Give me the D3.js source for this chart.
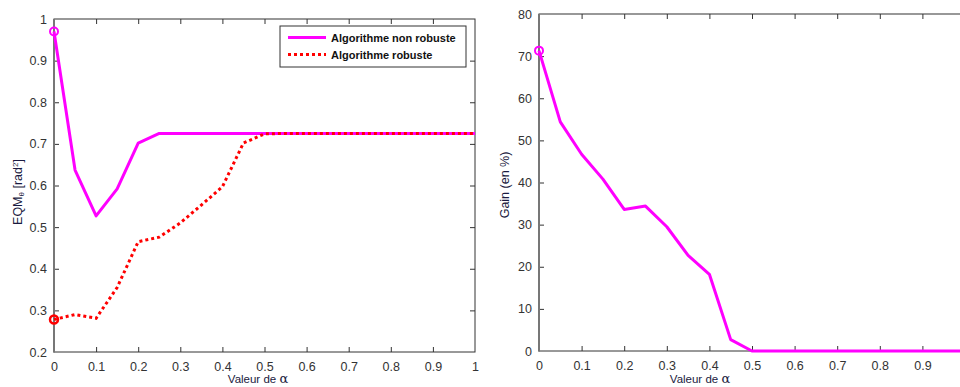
<!DOCTYPE html>
<html><head><meta charset="utf-8">
<script src="https://cdn.jsdelivr.net/npm/d3@7"></script>
<style>body{margin:0;background:#fff}svg{display:block}text{font-family:Arial,"Liberation Sans",sans-serif}</style>
</head><body>
<svg id="c" width="960" height="387"></svg>
<script>
const alpha = [0,0.05,0.1,0.15,0.2,0.25,0.3,0.35,0.4,0.45,0.5,0.55,0.6,0.65,0.7,0.75,0.8,0.85,0.9,0.95,1];
const eqmNonRobuste = [0.970,0.637,0.527,0.592,0.702,0.725,0.725,0.725,0.725,0.725,0.725,0.725,0.725,0.725,0.725,0.725,0.725,0.725,0.725,0.725,0.725];
const eqmRobuste = [0.278,0.290,0.281,0.355,0.465,0.476,0.510,0.553,0.597,0.702,0.724,0.725,0.725,0.725,0.725,0.725,0.725,0.725,0.725,0.725,0.725];
const gain = [71.3,54.4,46.7,40.8,33.6,34.4,29.5,22.7,18.2,2.7,0,0,0,0,0,0,0,0,0,0,0];
const xTicks = [0,0.1,0.2,0.3,0.4,0.5,0.6,0.7,0.8,0.9,1];
const yTicksLeft = [0.2,0.3,0.4,0.5,0.6,0.7,0.8,0.9,1];
const yTicksRight = [0,10,20,30,40,50,60,70,80];
const legendLabels = ["Algorithme non robuste","Algorithme robuste"];

const svg = d3.select("#c");
const MAG = "#ff00ff", RED = "#ff0000";

function panel(x0, x1, y0, y1, yDom, yTicks, yFmt, showLastX) {
  const g = svg.append("g");
  const x = d3.scaleLinear().domain([0,1]).range([x0,x1]);
  const y = d3.scaleLinear().domain(yDom).range([y1,y0]);
  g.append("rect").attr("x",x0).attr("y",y0).attr("width",x1-x0).attr("height",y1-y0)
    .attr("fill","#fff").attr("stroke","#333").attr("stroke-width",1);
  const ax = g.append("g").attr("transform",`translate(0,${y1})`)
    .call(d3.axisBottom(x).tickValues(showLastX ? xTicks : xTicks.slice(0,-1)).tickSize(-5).tickPadding(10).tickFormat(d=>d3.format("")(d)));
  const axTop = g.append("g").attr("transform",`translate(0,${y0})`)
    .call(d3.axisTop(x).tickValues(xTicks).tickSize(-5).tickFormat(""));
  const ay = g.append("g").attr("transform",`translate(${x0},0)`)
    .call(d3.axisLeft(y).tickValues(yTicks).tickSize(-5).tickPadding(7).tickFormat(yFmt));
  const ayR = g.append("g").attr("transform",`translate(${x1},0)`)
    .call(d3.axisRight(y).tickValues(yTicks).tickSize(-5).tickFormat(""));
  [ax,axTop,ay,ayR].forEach(a=>{
    a.select(".domain").remove();
    a.selectAll(".tick line").attr("stroke","#333");
    a.selectAll("text").attr("font-size",12.5).attr("fill","#333")
      .attr("font-family","Arial, 'Liberation Sans', sans-serif");
  });
  [ax,axTop].forEach(a=>a.selectAll(".tick").filter(d=>d===0||d===1).select("line").remove());
  [ay,ayR].forEach(a=>a.selectAll(".tick").filter(d=>d===yDom[0]||d===yDom[1]).select("line").remove());
  g.append("line").attr("x1",x0).attr("x2",x0).attr("y1",y0).attr("y2",y1+0.5)
    .attr("stroke","#777").attr("stroke-width",2);
  return {g,x,y};
}

// left panel
const L = panel(54,475,19,352,[0.2,1],yTicksLeft,d=>d===1?"1":d3.format(".1f")(d),true);
const lineL = d3.line().x((d,i)=>L.x(alpha[i])).y(d=>L.y(d));
L.g.append("path").datum(eqmNonRobuste).attr("d",lineL).attr("fill","none").attr("stroke",MAG).attr("stroke-width",3).attr("stroke-linejoin","round");
L.g.append("path").datum(eqmRobuste).attr("d",lineL).attr("fill","none").attr("stroke",RED).attr("stroke-width",3).attr("stroke-dasharray","3,3");
L.g.append("circle").attr("cx",L.x(alpha[0])).attr("cy",L.y(eqmNonRobuste[0])).attr("r",4).attr("fill","none").attr("stroke",MAG).attr("stroke-width",2);
L.g.append("circle").attr("cx",L.x(alpha[0])).attr("cy",L.y(eqmRobuste[0])).attr("r",4).attr("fill","none").attr("stroke",RED).attr("stroke-width",2.5);

// legend
const lg = svg.append("g");
lg.append("rect").attr("x",280).attr("y",26).attr("width",186).attr("height",41).attr("fill","#fff").attr("stroke","#333").attr("stroke-width",1);
lg.append("line").attr("x1",288).attr("x2",326).attr("y1",37.5).attr("y2",37.5).attr("stroke",MAG).attr("stroke-width",3);
lg.append("line").attr("x1",288).attr("x2",326).attr("y1",54.5).attr("y2",54.5).attr("stroke",RED).attr("stroke-width",3).attr("stroke-dasharray","3,3");
legendLabels.forEach((t,i)=>lg.append("text").attr("x",331).attr("y",41.5+i*17).attr("font-size",11).attr("font-weight","bold").attr("fill","#111").text(t));

// left axis labels
svg.append("text").attr("transform","translate(22,192) rotate(-90)").attr("text-anchor","middle").attr("font-size",12.5).attr("fill","#1a1a40")
  .html('EQM<tspan font-size="8" dy="2">θ</tspan><tspan dy="-2"> [rad</tspan><tspan font-size="8" dy="-4">2</tspan><tspan dy="4">]</tspan>');
svg.append("text").attr("x",258).attr("y",383).attr("text-anchor","middle").attr("font-size",11.5).attr("fill","#1a1a40")
  .html('Valeur de <tspan font-family="DejaVu Serif" font-size="13">α</tspan>');

// right panel
const R = panel(539,965,14,351,[0,80],yTicksRight,d3.format("d"),false);
const lineR = d3.line().x((d,i)=>R.x(alpha[i])).y(d=>R.y(d));
R.g.append("path").datum(gain).attr("d",lineR).attr("fill","none").attr("stroke",MAG).attr("stroke-width",3).attr("stroke-linejoin","round");
R.g.append("circle").attr("cx",R.x(alpha[0])).attr("cy",R.y(gain[0])).attr("r",4).attr("fill","none").attr("stroke",MAG).attr("stroke-width",2);
svg.append("text").attr("transform","translate(509,185) rotate(-90)").attr("text-anchor","middle").attr("font-size",12.5).attr("fill","#1a1a40").text("Gain (en %)");
svg.append("text").attr("x",700).attr("y",383).attr("text-anchor","middle").attr("font-size",11.5).attr("fill","#1a1a40")
  .html('Valeur de <tspan font-family="DejaVu Serif" font-size="13">α</tspan>');
</script>
</body></html>
